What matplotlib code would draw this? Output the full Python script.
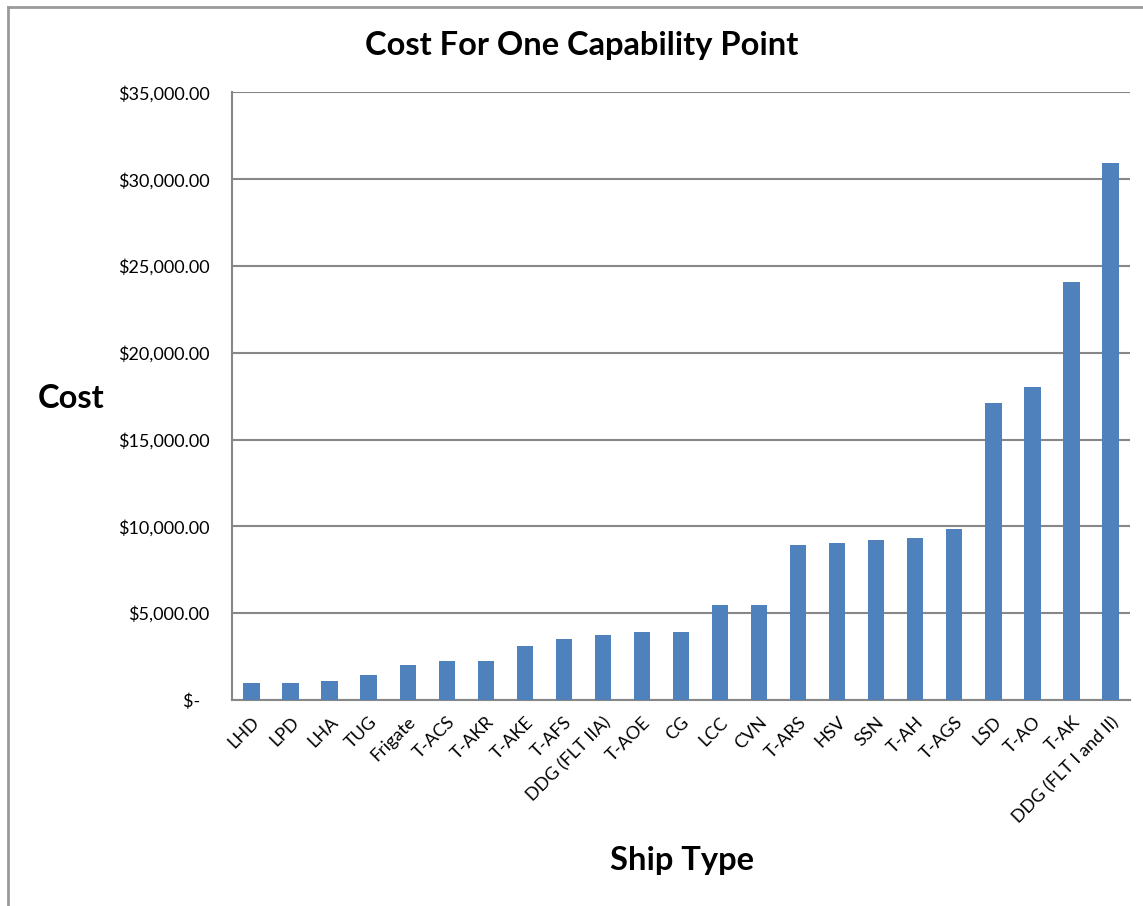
import matplotlib
matplotlib.use('Agg')
from matplotlib import pyplot as plt
from matplotlib.ticker import FuncFormatter
from matplotlib.lines import Line2D

ship_types = ['LHD', 'LPD', 'LHA', 'TUG', 'Frigate', 'T-ACS', 'T-AKR', 'T-AKE',
              'T-AFS', 'DDG (FLT IIA)', 'T-AOE', 'CG', 'LCC', 'CVN', 'T-ARS',
              'HSV', 'SSN', 'T-AH', 'T-AGS', 'LSD', 'T-AO', 'T-AK',
              'DDG (FLT I and II)']
costs = [980, 980, 1090, 1420, 2030, 2260, 2260, 3090,
         3510, 3720, 3930, 3930, 5470, 5470, 8930,
         9040, 9240, 9350, 9850, 17100, 18040, 24080,
         30960]
y_ticks = [0, 5000, 10000, 15000, 20000, 25000, 30000, 35000]

plt.rcParams['font.family'] = ['Lato', 'DejaVu Sans']

fig = plt.figure(figsize=(11.43, 9.06), dpi=100)
ax = fig.add_axes([0.203, 0.2274, 0.7856, 0.6706])

x = list(range(len(ship_types)))
ax.bar(x, costs, width=0.42, color='#4F81BD', zorder=3)

def money(v, pos):
    if v == 0:
        return '$-  '
    return '${:,.2f}'.format(v)

ax.set_ylim(0, 35000)
ax.set_yticks(y_ticks)
ax.yaxis.set_major_formatter(FuncFormatter(money))
ax.set_xlim(-0.5, len(ship_types) - 0.5)
ax.set_xticks(x)
ax.set_xticklabels(ship_types, rotation=45, ha='right', rotation_mode='anchor')
ax.tick_params(axis='both', length=0, labelsize=13, colors='black')
ax.tick_params(axis='y', pad=16)
ax.tick_params(axis='x', pad=10)

ax.grid(axis='y', color='#878787', linewidth=1.5, zorder=0)
for s in ['top', 'right']:
    ax.spines[s].set_visible(False)
for s in ['left', 'bottom']:
    ax.spines[s].set_color('#878787')
    ax.spines[s].set_linewidth(1.5)

# titel und achsen
fig.text(0.509, 0.950, 'Cost For One Capability Point', ha='center', va='center',
         fontsize=23.5, fontweight='bold')
fig.text(0.033, 0.560, 'Cost', ha='left', va='center', fontsize=23.5, fontweight='bold')
fig.text(0.597, 0.050, 'Ship Type', ha='center', va='center', fontsize=23.5, fontweight='bold')

# rahmen vom diagrammbereich
fig.add_artist(Line2D([0.007, 0.007], [0.0, 0.9923], transform=fig.transFigure,
                      color='#9a9a9a', linewidth=2))
fig.add_artist(Line2D([0.007, 1.0], [0.9923, 0.9923], transform=fig.transFigure,
                      color='#9a9a9a', linewidth=2))

fig.savefig('out.png', dpi=100)
